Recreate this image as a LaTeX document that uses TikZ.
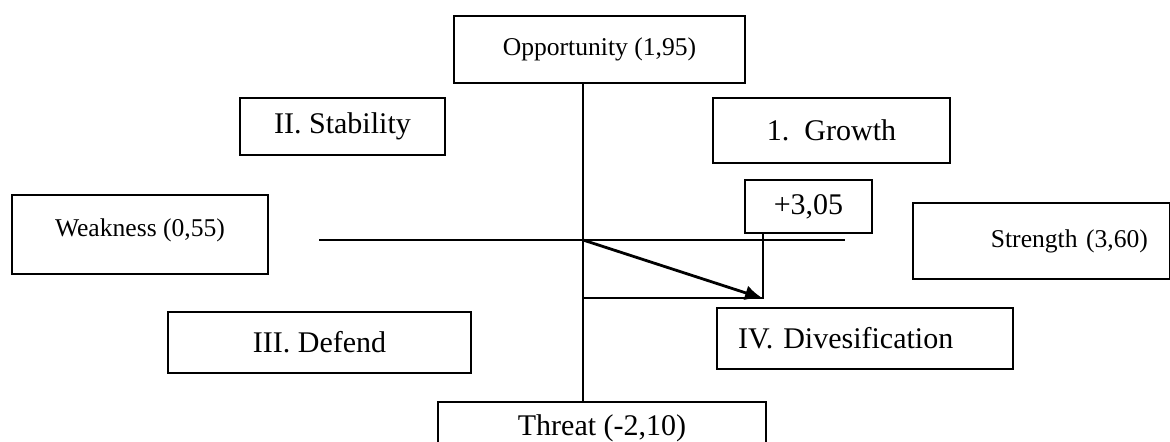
\documentclass[tikz,border=0pt]{standalone}
\usepackage{fontspec}
\setmainfont{Liberation Serif}
\usetikzlibrary{arrows.meta}

\begin{document}
\begin{tikzpicture}[
        % one unit = one pixel of the sketch
        x=0.5pt, y=-0.5pt,
        % define styles
        box/.style={
            draw,
            rectangle,
            line width=1pt,
            inner sep=0pt
        },
        small/.style={font=\fontsize{12.8}{15}\selectfont},
        big/.style={font=\fontsize{15}{18}\selectfont},
        axis/.style={line width=1pt},
        >={Latex[length=9pt,width=7.5pt]}
    ]
    \useasboundingbox (0,0) rectangle (1170,442);

    % factor boxes
    \node[box, small, minimum width=145.5pt, minimum height=33.5pt] (opp) at (599.5,49.5) {Opportunity (1,95)};
    \node[box, small, minimum width=128pt, minimum height=39.5pt,
          text depth=7pt] (weak) at (140,234.5) {Weakness (0,55)};
    \node[box, small, minimum width=128.5pt, minimum height=38pt,
          inner xsep=11pt, text width=106.5pt, align=right] (str) at (1041.5,241) {Strength (3,60)};
    \node[box, big, minimum width=164pt, minimum height=26.5pt] (threat) at (602,428.5) {Threat (-2,10)};

    % quadrant boxes
    \node[box, big, minimum width=102.5pt, minimum height=28.5pt] (stab) at (342.5,126.5) {II. Stability};
    \node[box, big, minimum width=118.5pt, minimum height=32.5pt] (grow) at (831.5,130.5) {1.\ \ Growth};
    \node[box, big, minimum width=151.5pt, minimum height=30.5pt] (def) at (319.5,342.5) {III. Defend};
    \node[box, big, minimum width=148pt, minimum height=30.5pt,
          inner xsep=10.5pt, text width=127pt, align=left] (div) at (865,338.5) {IV. Divesification};

    % score box
    \node[box, big, minimum width=63.5pt, minimum height=26.5pt] (val) at (808.5,206.5) {+3,05};

    % axes
    \coordinate (o) at (583,240);
    \coordinate (wend) at (319,240);
    \coordinate (send) at (845,240);
    \coordinate (tip) at (763,298.5);
    \draw[axis] (o |- opp.south) -- (o |- threat.north);
    \draw[axis] (wend) -- (send);

    % position of the score
    \draw[axis] (val.south -| tip) -- (tip) -- (tip -| o);
    \draw[->, line width=1.4pt] (o) -- (tip);
\end{tikzpicture}
\end{document}
